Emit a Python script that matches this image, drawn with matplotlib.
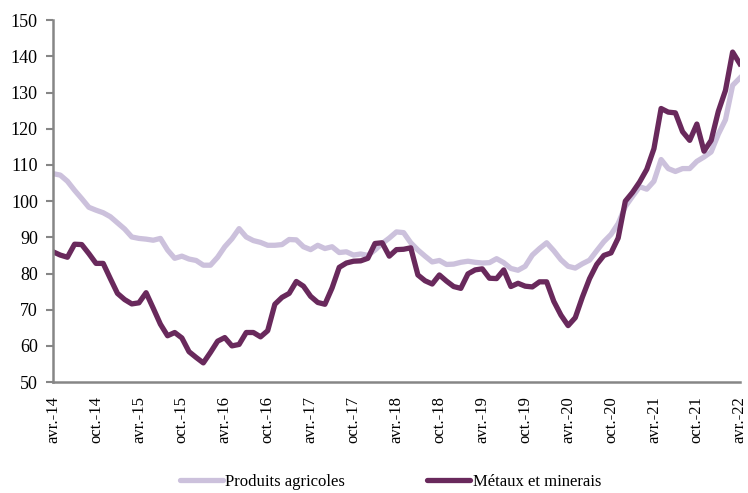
import matplotlib.pyplot as plt

# mensuel, avr.-14 -> avr.-22
tick_labels = ['avr.-14', 'oct.-14', 'avr.-15', 'oct.-15', 'avr.-16', 'oct.-16',
               'avr.-17', 'oct.-17', 'avr.-18', 'oct.-18', 'avr.-19', 'oct.-19',
               'avr.-20', 'oct.-20', 'avr.-21', 'oct.-21', 'avr.-22']

agri = [107.6, 107.2, 105.5, 103.0, 100.7, 98.3, 97.5, 96.8, 95.7, 94.0,
        92.3, 90.1, 89.7, 89.5, 89.2, 89.7, 86.5, 84.2, 84.8, 84.0,
        83.6, 82.3, 82.3, 84.5, 87.4, 89.6, 92.4, 90.1, 89.1, 88.6,
        87.8, 87.8, 88.0, 89.4, 89.3, 87.4, 86.6, 87.8, 86.9, 87.4,
        85.8, 86.0, 85.1, 85.4, 85.0, 86.5, 88.3, 89.8, 91.5, 91.3,
        88.5, 86.5, 84.8, 83.2, 83.6, 82.5, 82.6, 83.1, 83.4, 83.1,
        82.9, 83.0, 84.1, 83.0, 81.4, 80.9, 82.0, 85.1, 86.9, 88.5,
        86.3, 83.8, 82.0, 81.5, 82.7, 83.7, 86.3, 88.8, 90.8, 93.8,
        98.5, 101.3, 104.0, 103.3, 105.5, 111.5, 109.0, 108.2, 109.0, 109.0,
        111.0, 112.2, 113.6, 118.5, 122.5, 132.0, 134.0]

metaux = [86.0, 85.1, 84.5, 88.1, 88.0, 85.5, 82.8, 82.8, 78.6, 74.5,
          72.8, 71.6, 71.9, 74.7, 70.4, 66.0, 62.8, 63.7, 62.2, 58.4,
          56.8, 55.3, 58.2, 61.3, 62.3, 60.0, 60.4, 63.7, 63.7, 62.5,
          64.2, 71.5, 73.4, 74.5, 77.8, 76.5, 73.7, 72.0, 71.5, 76.0,
          81.7, 82.9, 83.4, 83.5, 84.2, 88.3, 88.5, 84.8, 86.6, 86.7,
          87.1, 79.6, 78.0, 77.1, 79.6, 77.9, 76.4, 75.9, 79.9, 81.0,
          81.3, 78.7, 78.6, 81.0, 76.4, 77.3, 76.5, 76.3, 77.7, 77.7,
          72.3, 68.5, 65.6, 67.8, 73.5, 78.6, 82.5, 85.0, 85.7, 89.8,
          100.0, 102.4, 105.3, 108.8, 114.5, 125.6, 124.6, 124.4, 119.2, 116.8,
          121.3, 113.8, 116.8, 124.8, 130.6, 141.2, 138.0]

plt.rcParams['font.family'] = ['Liberation Serif', 'DejaVu Serif']

fig = plt.figure(figsize=(7.48, 4.93), dpi=100)
ax = fig.add_axes([0.071, 0.225, 0.918, 0.734])

x = list(range(len(agri)))
ax.plot(x, agri, color='#CCC1DC', lw=3.8, label='Produits agricoles', solid_joinstyle='round')
ax.plot(x, metaux, color='#69295C', lw=3.8, label='Métaux et minerais', solid_joinstyle='round')

ax.set_xlim(0, 96)
ax.set_ylim(50, 150)
ax.set_yticks(range(50, 151, 10))
ax.set_xticks(range(0, 97, 6))
ax.set_xticklabels(tick_labels, rotation=90)

for s in ['top', 'right']:
    ax.spines[s].set_visible(False)
for s in ['left', 'bottom']:
    ax.spines[s].set_color('#868686')
    ax.spines[s].set_linewidth(1.8)
ax.tick_params(axis='y', length=5, width=1.5, color='#868686', labelsize=13, pad=6)
ax.tick_params(axis='x', length=0, labelsize=12, pad=10)

leg = fig.legend(loc='center', bbox_to_anchor=(0.522, 0.022), ncol=2, frameon=False,
                 fontsize=12, handlelength=2.6, handletextpad=0.15, columnspacing=4.9)
for h in leg.get_lines():
    h.set_solid_capstyle('round')

fig.savefig('out.png', dpi=100)
